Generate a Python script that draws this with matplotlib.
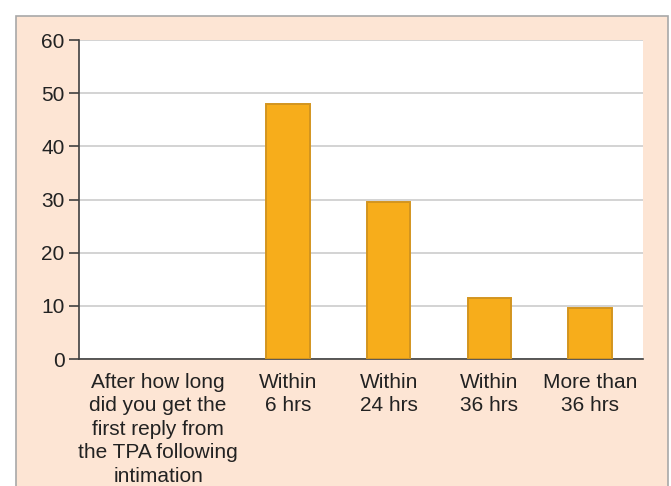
import matplotlib
matplotlib.use("Agg")
import matplotlib.pyplot as plt
from matplotlib.patches import Rectangle

categories = ["After how long\ndid you get the\nfirst reply from\nthe TPA following\nintimation",
              "Within\n6 hrs", "Within\n24 hrs", "Within\n36 hrs", "More than\n36 hrs"]
values = [0, 48, 29.5, 11.5, 9.5]
positions = [-0.29, 1, 2, 3, 4]
yticks = [0, 10, 20, 30, 40, 50, 60]

plt.rcParams['font.family'] = ['Liberation Sans', 'DejaVu Sans']

W, H = 671, 486
fig = plt.figure(figsize=(W / 100, H / 100), dpi=100)
fig.patch.set_facecolor('white')

# peach panel
panel = Rectangle((16 / W, -0.05), (668 - 16) / W, 1 - 16 / H + 0.05,
                  transform=fig.transFigure, facecolor='#FDE5D4',
                  edgecolor='#A8A8A8', linewidth=1.2, zorder=-10)
fig.patches.append(panel)

ax = fig.add_axes([79.3 / W, 1 - 359 / H, (642.7 - 79.3) / W, (359 - 40) / H])
ax.set_zorder(5)
ax.set_facecolor('white')

lws = [0 if v == 0 else 1.4 for v in values]
ax.bar(positions, values, width=0.43, color='#F7AD1B', edgecolor='#D3951F',
       linewidth=lws, zorder=3)

ax.set_xlim(-1.073, 4.523)
ax.set_ylim(0, 60)
ax.set_yticks(yticks)
ax.yaxis.grid(True, color='#CCCCCC', linewidth=1.2, zorder=0)
ax.set_axisbelow(True)

ax.set_xticks(positions)
ax.set_xticklabels(categories, fontsize=15, color='#222222', linespacing=1.3)
ax.tick_params(axis='x', length=0, pad=10)
ax.tick_params(axis='y', length=7, width=1.2, color='#404040', labelsize=15,
               labelcolor='#222222', pad=3.6)

for s in ['top', 'right']:
    ax.spines[s].set_visible(False)
for s in ['left', 'bottom']:
    ax.spines[s].set_color('#404040')
    ax.spines[s].set_linewidth(1.2)

fig.savefig('out.png', dpi=100, facecolor=fig.get_facecolor())
